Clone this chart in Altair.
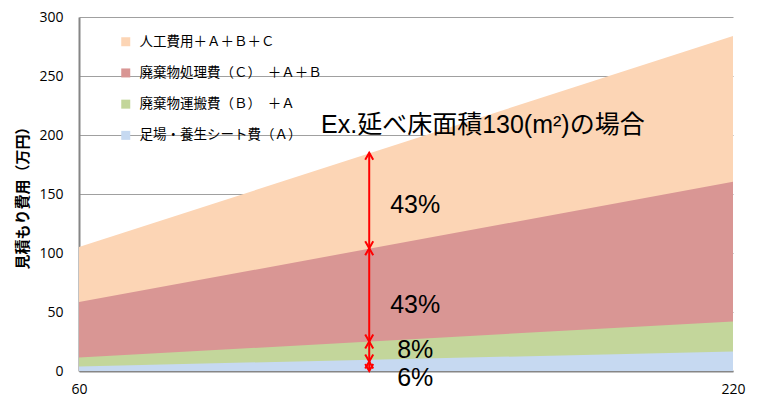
import altair as alt
import pandas as pd

# ---- data ----
x_vals = [60, 220]
labor_total = [105, 284]        # 人工費用＋A＋B＋C
disposal_total = [58.4, 160.3]  # 廃棄物処理費（C）＋A＋B
transport_total = [11.4, 42]    # 廃棄物運搬費（B）＋A
scaffold = [3.9, 16.5]          # 足場・養生シート費（A）

series_names = [
    "人工費用＋Ａ＋Ｂ＋Ｃ",
    "廃棄物処理費（Ｃ）　＋Ａ＋Ｂ",
    "廃棄物運搬費（Ｂ）　＋Ａ",
    "足場・養生シート費（Ａ）",
]
series_colors = ["#FCD5B5", "#D99694", "#C3D69B", "#C6D9F1"]
series_values = [labor_total, disposal_total, transport_total, scaffold]

y_ticks = [0, 50, 100, 150, 200, 250, 300]
x_ticks = [60, 220]

arrow_x = 131
arrow_bounds = [0, 8, 25, 104, 185]
pct_labels = ["6%", "8%", "43%", "43%"]
pct_label_y = [-6.2, 17.7, 55.6, 141]

note_text = "Ex.延べ床面積130(m²)の場合"
note_x = 158.8
note_y = 208.6

# ---- tables ----
rows = []
for name, vals in zip(series_names, series_values):
    for xv, yv in zip(x_vals, vals):
        rows.append({"series": name, "x": xv, "y": yv})
area_df = pd.DataFrame(rows)

seg_df = pd.DataFrame({
    "x": [arrow_x] * (len(arrow_bounds) - 1),
    "lo": arrow_bounds[:-1],
    "hi": arrow_bounds[1:],
})
lab_df = pd.DataFrame({"x": [arrow_x] * len(pct_labels), "y": pct_label_y, "t": pct_labels})
note_df = pd.DataFrame({"x": [note_x], "y": [note_y], "t": [note_text]})

xscale = alt.Scale(domain=[60, 220], nice=False, zero=False)
yscale = alt.Scale(domain=[0, 300], nice=False)

x_axis = alt.Axis(values=x_ticks, grid=False, ticks=False, domainColor="#868686",
                  domainWidth=2, labelPadding=11, labelFlush=False,
                  labelFont="Open Sans",
                  labelFontSize=14, labelColor="#000000", title=None)
y_axis = alt.Axis(values=y_ticks, grid=True, gridColor="#A0A0A0", gridWidth=1,
                  ticks=False, domainColor="#868686", domainWidth=2,
                  labelPadding=16, labelFont="Open Sans", labelFontSize=14,
                  labelColor="#000000", title="見積もり費用（万円）",
                  titleFont="Noto Sans CJK JP", titleFontSize=15,
                  titleFontWeight="bold", titleColor="#000000",
                  titleAngle=-90, titleX=-57, titleY=177,
                  titleBaseline="middle", titleAlign="center")

color = alt.Color(
    "series:N",
    scale=alt.Scale(domain=series_names, range=series_colors),
    legend=alt.Legend(orient="none", legendX=40, legendY=18, title=None,
                      symbolType="square", symbolSize=81, symbolStrokeWidth=0,
                      symbolOpacity=1, labelLimit=400,
                      labelFont="Noto Sans CJK JP", labelFontSize=13.5,
                      labelColor="#000000", rowPadding=16.2, labelOffset=7,
                      padding=0),
)

layers = []
for i, name in enumerate(series_names):
    enc = dict(
        x=alt.X("x:Q", scale=xscale, axis=x_axis),
        y=alt.Y("y:Q", scale=yscale, axis=y_axis, stack=None),
        color=color,
    )
    layers.append(
        alt.Chart(area_df)
        .transform_filter(alt.datum.series == name)
        .mark_area(opacity=1)
        .encode(**enc)
    )

rule = alt.Chart(seg_df).mark_rule(color="#FF0000", strokeWidth=2).encode(
    x=alt.X("x:Q", scale=xscale), y=alt.Y("lo:Q", scale=yscale), y2="hi:Q"
)
up_heads = alt.Chart(seg_df).mark_point(
    shape="M-0.8,1.4L0,0L0.8,1.4", filled=False, size=100, stroke="#FF0000",
    strokeWidth=2, opacity=1
).encode(x=alt.X("x:Q", scale=xscale), y=alt.Y("hi:Q", scale=yscale))
down_heads = alt.Chart(seg_df).mark_point(
    shape="M-0.8,-1.4L0,0L0.8,-1.4", filled=False, size=100, stroke="#FF0000",
    strokeWidth=2, opacity=1
).encode(x=alt.X("x:Q", scale=xscale), y=alt.Y("lo:Q", scale=yscale))

labels = alt.Chart(lab_df).mark_text(
    font="Liberation Sans", fontSize=25, color="#000000", align="center",
    baseline="middle", dx=46
).encode(x=alt.X("x:Q", scale=xscale), y=alt.Y("y:Q", scale=yscale), text="t:N")

note = alt.Chart(note_df).mark_text(
    font="Liberation Sans, Noto Sans CJK JP", fontSize=25, color="#000000",
    align="center", baseline="middle"
).encode(x=alt.X("x:Q", scale=xscale), y=alt.Y("y:Q", scale=yscale), text="t:N")

chart = (
    alt.layer(*layers, rule, up_heads, down_heads, labels, note)
    .properties(
        width=654, height=354,
        autosize=alt.AutoSizeParams(type="none"),
        padding={"left": 71, "top": 9, "right": 18, "bottom": 29},
        background="#FFFFFF",
    )
    .configure_view(strokeWidth=0)
)

chart.save("out.html", embed_options={"renderer": "svg", "actions": False})
